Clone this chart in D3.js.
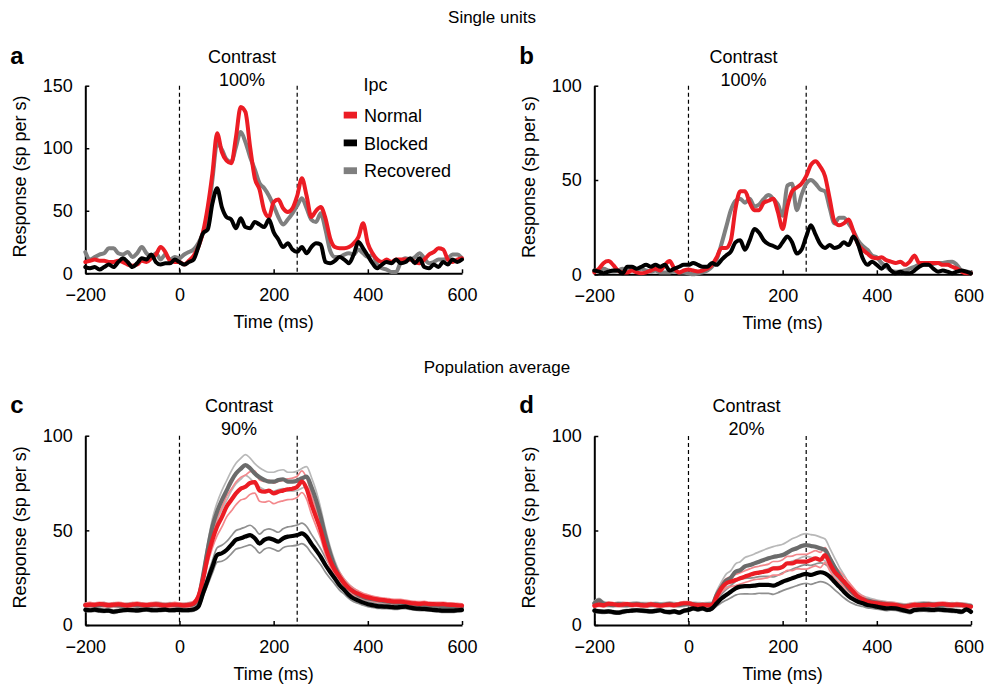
<!DOCTYPE html>
<html>
<head>
<meta charset="utf-8">
<script src="https://cdn.jsdelivr.net/npm/d3@7"></script>
<style>
  body { margin: 0; background: #fff; }
  svg { display: block; font-family: "Liberation Sans", Arial, Helvetica, sans-serif; }
</style>
</head>
<body>
<svg id="chart" width="985" height="690"></svg>
<script>
// ---------- DATA (time grid -200..600 ms, 10 ms steps) ----------
const times = d3.range(-200, 601, 10);
const xTicks = [-200, 0, 200, 400, 600];
const yTicksA = [0, 50, 100, 150];
const yTicksB = [0, 50, 100];
const seriesNames = ["Normal", "Blocked", "Recovered"];
const stimLines = [0, 250];

// Panel a: single unit, contrast 100%
const aNormal = [9,10,11,10,10,9,9,10,9,7,6,7,10,9,12,15,21,17,10,9,9,7,10,14,21,33,53,80,112,97,90,88,109,133,129,101,76,67,50,45,57,59,52,49,52,62,76,62,45,50,53,44,28,21,20,20,21,24,29,40,24,16,11,9,11,9,11,11,11,11,9,8,11,15,17,20,19,11,9,11,12];
const aBlocked = [5,4,5,3,5,7,5,9,12,9,5,8,12,11,15,9,7,8,8,11,9,7,9,11,21,32,35,56,68,53,45,43,36,44,37,36,41,39,37,43,33,27,21,24,19,17,21,16,21,24,23,9,8,10,13,11,8,15,25,20,14,8,4,7,9,8,11,8,9,12,8,12,5,4,7,5,9,7,11,9,11];
const aRecovered = [17,11,13,15,16,20,20,16,15,17,13,16,21,16,13,16,11,15,11,13,12,15,17,19,24,32,45,75,104,99,91,89,101,113,105,93,83,72,68,62,54,45,39,43,48,54,60,52,43,41,48,35,18,13,13,15,16,15,19,16,13,15,7,4,3,1,1,9,12,11,13,16,12,8,9,11,11,12,15,15,12];

// Panel b: single unit, contrast 100%
const bNormal = [1,3,6,7,5,2,1,1,2,1,0.5,1,2,3,2,5,7,3,1,2,2.5,2,1.5,2,3,5,9,14,14,18,35,44,44,38,34,34,38,39,40,33,24,36,44,46,48,52,58,60,57,52,40,28,26,27,29,23,16,13,11,9,8.5,9,7.5,6.7,6,6.7,5,6.7,10,6,6,6,6,6,5,5,4,3,1.4,0.5,0.5];
const bBlocked = [2,1.4,0.5,1.4,2,2,0.5,4,4,3,4,5,4,5,4,5,2,3,4,5,5,6,5,4,4,6,5,7.6,10,12,17,18,13,18,24,22,18,16,15,14,17,20,17,11,13,20,26,21,16,14,15.5,14,14.7,17,15.5,20,16,8.5,5,6.7,5,3,5,2,0.5,1.4,0.5,0.5,2,4,5,5,3,1.4,2,1.4,0.5,1.4,2,1.4,0.5];
const bRecovered = [2,2,3,2,1.5,2,3,2,2.5,2,3,2,1.5,2,1,1,1,1.5,1,1,0.5,0,0.5,1,2,4,8,16,25,34,39,40,38,40,36,37,40,42,40,37,31,47,48,34,42,48,50,48,45,44,35,27,30,30,27,23,18,15,13,10,9,6,4,2,1.4,1.5,2,3,4,5,5,5,5.5,6,6,6.5,6.7,5,2,1.5,1];

// Panel c: population average, contrast 90% (mean and s.e.m.)
const cNormalMean = [10.5,10.8,10.6,11,10.8,10.5,10.7,10.9,10.6,10.4,10.8,11,10.7,10.5,10.8,10.9,10.6,10.4,10.6,10.8,10.6,10.4,10.6,11.4,15,24,36,45,52,57,62.5,66,69.5,72,73,75,75.5,71,70.4,71,69.5,70.4,71,71.7,72,73,75.7,72,64,57,50,41,34,29,25.5,22,19.4,17.6,16.4,15.3,14.6,14,13.5,13.2,12.9,12.5,12.3,12.4,12,11.6,11.4,11.2,11.4,11,11,10.9,11,10.7,10.6,10.4,10.2];
const cNormalSem = [1,1.1,1,1,1.1,1,1,1.1,1,1,1,1.1,1,1,1,1.1,1,1,1,1.1,1,1,1.1,1.2,1.5,2.5,3.5,4.2,4.8,5.2,5.5,5.8,6,6,6.2,6,5.8,5.6,5.5,5.5,5.4,5.4,5.4,5.5,5.6,5.6,5.7,5.5,5.2,4.8,4.3,3.8,3.3,2.8,2.4,2.1,1.9,1.7,1.6,1.5,1.4,1.3,1.3,1.2,1.2,1.2,1.2,1.2,1.1,1.1,1.1,1.1,1.1,1.1,1,1,1,1,1,1,1];
const cBlockedMean = [8,7.8,8.1,7.7,7.5,7.6,7,7.4,7.8,8,7.9,7.7,8,8.2,7.9,7.8,8,8.1,7.8,7.9,8,7.8,7.9,8.2,9.7,16.7,23.8,30.8,37,37.9,39.6,42.3,45,45.8,46.7,47.5,45.8,43,45,45.8,45,44,45.8,46.7,47,47.5,48.4,46.7,43,39.6,36,31.7,28,24.6,21,18.5,15.8,14,12.9,11.8,11,10.5,10,9.8,9.7,9.5,9.3,9.5,9.7,9.2,8.8,8.6,8.5,8.3,8,7.8,7.6,7.6,7.6,7.8,8];
const cBlockedSem = [0.8,0.8,0.9,0.8,0.8,0.8,0.9,0.8,0.8,0.8,0.8,0.9,0.8,0.8,0.8,0.8,0.9,0.8,0.8,0.8,0.8,0.8,0.9,0.9,1,1.8,2.6,3.3,3.8,4.2,4.5,4.7,4.9,5,5.1,5.2,5.1,5,5,5,5,5,5,5.1,5.2,5.3,5.4,5.3,5,4.6,4.2,3.8,3.4,3,2.6,2.2,1.9,1.7,1.5,1.4,1.3,1.2,1.2,1.1,1.1,1.1,1,1,1,1,1,1,0.9,0.9,0.9,0.9,0.9,0.9,0.9,0.9,0.9];
const cRecoveredMean = [10.4,10.6,10.2,10.5,10.8,10.3,10.6,10.4,10.2,10.5,10.7,10.4,10.6,10.3,10.5,10.8,10.6,10.4,10.7,10.5,10.3,10.4,10.6,11,14,26,40,52,60,66,71,76,80,82.5,84.5,82.8,80,78,76.6,75.7,75.7,76.6,77,75.7,75.7,76.2,77.5,78.4,73,66,57,46.7,37.9,30.8,25.5,22,19.4,17.6,15.8,14.8,14,13.6,13.2,12.8,12.4,12,11.8,11.6,11.4,11.2,11,10.8,10.7,10.5,10.4,10.2,10,9.9,9.8,9.6,9.5];
const cRecoveredSem = [1.1,1.1,1.2,1.1,1.1,1.1,1.2,1.1,1.1,1.1,1.1,1.2,1.1,1.1,1.1,1.1,1.2,1.1,1.1,1.1,1.1,1.1,1.2,1.2,1.5,2.5,3.5,4.2,4.6,5,5.2,5.3,5.4,5.5,5.5,5.4,5.2,5.1,5,5,5,5,5,5,5,5.1,5.2,5.3,5.2,5,4.6,4,3.5,3,2.6,2.3,2.1,1.9,1.8,1.6,1.5,1.4,1.4,1.3,1.3,1.3,1.2,1.2,1.2,1.2,1.2,1.2,1.1,1.1,1.1,1.1,1.1,1.1,1.1,1.1,1.1];

// Panel d: population average, contrast 20% (mean and s.e.m.)
const dNormalMean = [10.2,10.8,10.5,11.2,11,10.6,10.8,11,10.6,10.8,10.5,10.4,10.9,10.6,10.3,10.6,10.8,10.5,11,11.5,11.5,10.8,10.5,10.6,10.5,10.6,15,19.4,22,23,23.8,24.7,25.6,26.5,27.3,27.7,28.2,28.7,30,30,30.8,32.6,32.6,33.5,33.5,33.5,34.4,35.3,34.4,37,32.6,28.2,25.6,23,20.3,17.6,15,13.6,12.3,11.8,11.5,11.2,10.9,10.8,10.6,10,9.7,10.2,10.6,10.5,10.6,10.8,10.6,10.9,11.1,10.8,10.6,10.8,10.6,10.2,9.7];
const dNormalSem = [0.9,0.9,1,0.9,0.9,0.9,1,0.9,0.9,0.9,0.9,1,0.9,0.9,0.9,0.9,1,0.9,0.9,0.9,0.9,0.9,1,0.9,0.9,1,1.5,2,2.5,2.7,2.9,3,3.1,3.2,3.3,3.4,3.5,3.5,3.6,3.6,3.7,3.7,3.8,3.8,3.9,3.9,4,4,4,4,3.8,3.5,3.1,2.8,2.5,2.2,1.9,1.7,1.5,1.4,1.3,1.2,1.2,1.2,1.1,1.1,1.1,1.1,1.1,1.1,1.1,1,1,1,1,1,1,1,1,1,1];
const dBlockedMean = [7.6,7.2,7,7.2,6.8,6.5,7,7.4,7.6,7.8,7.6,7.4,7.2,7.5,7.8,7,6.8,7.2,6.5,7.5,8,8.8,8.3,8.8,8,8.8,11.5,14,15.9,17.6,19.4,20.3,20.6,20.6,20.8,21.2,21.2,21.2,20.8,21.7,22.9,23.8,24.7,25.6,26.5,27,26.5,27.3,27.9,27.3,25.6,22.9,20.3,17.6,15.3,13.6,12.3,11.5,10.6,10.2,9.7,9.2,8.8,8.9,8.8,8.2,7.6,7,8,8.2,8.3,8.1,8,8.2,8,7.8,7.6,7.4,7,8.3,7];
const dBlockedSem = [0.8,0.8,0.9,0.8,0.8,0.8,0.9,0.8,0.8,0.8,0.8,0.9,0.8,0.8,0.8,0.8,0.9,0.8,0.8,0.8,0.8,0.8,0.9,0.8,0.8,0.9,1.5,2.2,2.8,3.2,3.6,3.9,4.1,4.2,4.3,4.4,4.5,4.5,4.6,4.6,4.7,4.7,4.8,4.8,4.9,4.9,5,5,5,4.9,4.6,4.2,3.7,3.2,2.7,2.3,2,1.7,1.5,1.4,1.3,1.2,1.2,1.1,1.1,1.1,1,1,1,1,1,1,1,0.9,0.9,0.9,0.9,0.9,0.9,0.9,0.9];
const dRecoveredMean = [11.5,13,11.2,10.8,10.6,11,10.8,10.6,10.9,11.1,10.8,10.6,10.7,10.9,10.6,10.8,11,10.7,10.6,10.9,11.2,10.9,10.7,10.6,10.8,10.8,16,20,23.5,25,28.2,29,31,31.7,32.6,33.5,34.4,35.3,36,36.5,37,38.3,39.7,40.6,41.8,42.3,41.8,41.4,40.6,39.7,35.3,30.8,26.5,23,19.4,16.8,15,13.6,12.9,12.3,11.8,11.5,11.1,10.8,10.6,10.3,10,10.3,10.6,10.8,11.1,11,10.8,10.7,10.6,10.6,10.7,10.6,10.6,10.3,10];
const dRecoveredSem = [1.1,1.1,1.2,1.1,1.1,1.1,1.2,1.1,1.1,1.1,1.1,1.2,1.1,1.1,1.1,1.1,1.2,1.1,1.1,1.1,1.1,1.1,1.2,1.1,1.1,1.2,2,2.8,3.4,3.8,4.2,4.5,4.7,4.9,5,5.2,5.3,5.4,5.5,5.6,5.7,5.8,5.9,6,6,6,6,6,5.9,5.8,5.4,4.9,4.3,3.7,3.1,2.6,2.2,1.9,1.7,1.5,1.4,1.3,1.3,1.3,1.2,1.2,1.2,1.2,1.2,1.2,1.2,1.1,1.1,1.1,1.1,1.1,1.1,1.1,1.1,1.1,1.1];

// ---------- DRAWING ----------
const svg = d3.select("#chart");
const FS = 18;
const RED = "#ec1c24", BLACK = "#000000", GRAY = "#7f7f7f";

function makePanel(cfg) {
  const x = d3.scaleLinear().domain([-200, 600]).range([cfg.x0, cfg.x1]);
  const y = d3.scaleLinear().domain([0, cfg.ymax]).range([cfg.y0, cfg.y1]);
  const g = svg.append("g");

  // dashed stimulus on/off lines
  g.selectAll("line.stim").data(stimLines).enter().append("line")
    .attr("x1", d => x(d)).attr("x2", d => x(d))
    .attr("y1", y(cfg.ymax)).attr("y2", y(0))
    .attr("stroke", "#000").attr("stroke-width", 1.2)
    .attr("stroke-dasharray", "4,3");

  // axes
  const xAxis = d3.axisBottom(x).tickValues(xTicks).tickSizeInner(-4).tickSizeOuter(0).tickPadding(15);
  const yAxis = d3.axisLeft(y).tickValues(cfg.yticks).tickSizeInner(-4).tickSizeOuter(0).tickPadding(12.5);
  const gx = g.append("g").attr("transform", `translate(0,${y(0)})`).call(xAxis);
  const gy = g.append("g").attr("transform", `translate(${x(-200)},0)`).call(yAxis);
  [gx, gy].forEach(a => {
    a.select(".domain").attr("stroke-width", 2);
    a.selectAll(".tick line").attr("stroke-width", 1.5);
    a.selectAll("text").attr("font-size", FS).attr("font-family", "Liberation Sans, Arial, sans-serif").attr("fill", "#000");
  });
  // keep the right-most tick label inside the page
  if (cfg.x1 > 900) {
    gx.selectAll(".tick").filter(d => d === 600).select("text").attr("dx", -2.5);
  }

  // labels
  g.append("text").attr("x", (cfg.x0 + cfg.x1) / 2).attr("y", y(0) + 55)
    .attr("text-anchor", "middle").attr("font-size", FS).text("Time (ms)");
  g.append("text").attr("transform", `translate(${cfg.x0 - 59},${(y(0) + y(cfg.ymax)) / 2 - 3}) rotate(-90)`)
    .attr("text-anchor", "middle").attr("font-size", FS).text("Response (sp per s)");
  g.append("text").attr("x", cfg.x0 - 75).attr("y", cfg.letterY)
    .attr("font-size", 24).attr("font-weight", "bold").text(cfg.letter);
  g.append("text").attr("x", cfg.cx).attr("y", cfg.letterY - 1)
    .attr("text-anchor", "middle").attr("font-size", FS).text("Contrast");
  g.append("text").attr("x", cfg.cx).attr("y", cfg.letterY + 22)
    .attr("text-anchor", "middle").attr("font-size", FS).text(cfg.contrast);

  return { x, y, g };
}

function drawLine(p, values, color, width, opacity) {
  const line = d3.line().x((d, i) => p.x(times[i])).y(d => p.y(d)).curve(d3.curveMonotoneX);
  p.g.append("path").datum(values).attr("d", line)
    .attr("fill", "none").attr("stroke", color).attr("stroke-width", width)
    .attr("stroke-opacity", opacity == null ? 1 : opacity)
    .attr("stroke-linejoin", "round").attr("stroke-linecap", "round");
}

function drawMeanSem(p, mean, sem, color, semColor) {
  drawLine(p, mean.map((m, i) => m + sem[i]), semColor, 1.7);
  drawLine(p, mean.map((m, i) => m - sem[i]), semColor, 1.7);
}

// Panel a
const pa = makePanel({ x0: 85.3, x1: 462, y0: 273.3, y1: 85.7, ymax: 150, yticks: yTicksA, letter: "a", letterY: 64, cx: 242, contrast: "100%" });
drawLine(pa, aRecovered, GRAY, 4);
drawLine(pa, aNormal, RED, 4);
drawLine(pa, aBlocked, BLACK, 4);

// Panel b
const pb = makePanel({ x0: 594.3, x1: 971, y0: 274.3, y1: 85.7, ymax: 100, yticks: yTicksB, letter: "b", letterY: 64, cx: 743.5, contrast: "100%" });
drawLine(pb, bRecovered, GRAY, 4);
drawLine(pb, bNormal, RED, 4);
drawLine(pb, bBlocked, BLACK, 4);

// Panel c
const pc = makePanel({ x0: 85.3, x1: 462, y0: 625, y1: 435.7, ymax: 100, yticks: yTicksB, letter: "c", letterY: 413, cx: 239, contrast: "90%" });
drawMeanSem(pc, cRecoveredMean, cRecoveredSem, GRAY, "#b8b8b8");
drawMeanSem(pc, cBlockedMean, cBlockedSem, BLACK, "#8f8f8f");
drawMeanSem(pc, cNormalMean, cNormalSem, RED, "#f3888c");
drawLine(pc, cRecoveredMean, "#6b6b6b", 4.2);
drawLine(pc, cNormalMean, RED, 4.2);
drawLine(pc, cBlockedMean, BLACK, 4.2);

// Panel d
const pd = makePanel({ x0: 594.3, x1: 971, y0: 625, y1: 436, ymax: 100, yticks: yTicksB, letter: "d", letterY: 413, cx: 746.5, contrast: "20%" });
drawMeanSem(pd, dRecoveredMean, dRecoveredSem, GRAY, "#b8b8b8");
drawMeanSem(pd, dBlockedMean, dBlockedSem, BLACK, "#8f8f8f");
drawMeanSem(pd, dNormalMean, dNormalSem, RED, "#f3888c");
drawLine(pd, dRecoveredMean, "#6b6b6b", 4.2);
drawLine(pd, dNormalMean, RED, 4.2);
drawLine(pd, dBlockedMean, BLACK, 4.2);

// Section titles
svg.append("text").attr("x", 492).attr("y", 23).attr("text-anchor", "middle").attr("font-size", 17).text("Single units");
svg.append("text").attr("x", 497).attr("y", 373).attr("text-anchor", "middle").attr("font-size", 17).text("Population average");

// Legend (panel a)
const legColors = [RED, BLACK, GRAY];
const leg = svg.append("g");
leg.append("text").attr("x", 363.5).attr("y", 91).attr("font-size", FS).text("Ipc");
seriesNames.forEach((name, i) => {
  const yb = 121.7 + i * 27.8;
  leg.append("rect").attr("x", 343.7).attr("y", yb - 10).attr("width", 13.3).attr("height", 6.8).attr("fill", legColors[i]);
  leg.append("text").attr("x", 364).attr("y", yb).attr("font-size", FS).text(name);
});
</script>
</body>
</html>
